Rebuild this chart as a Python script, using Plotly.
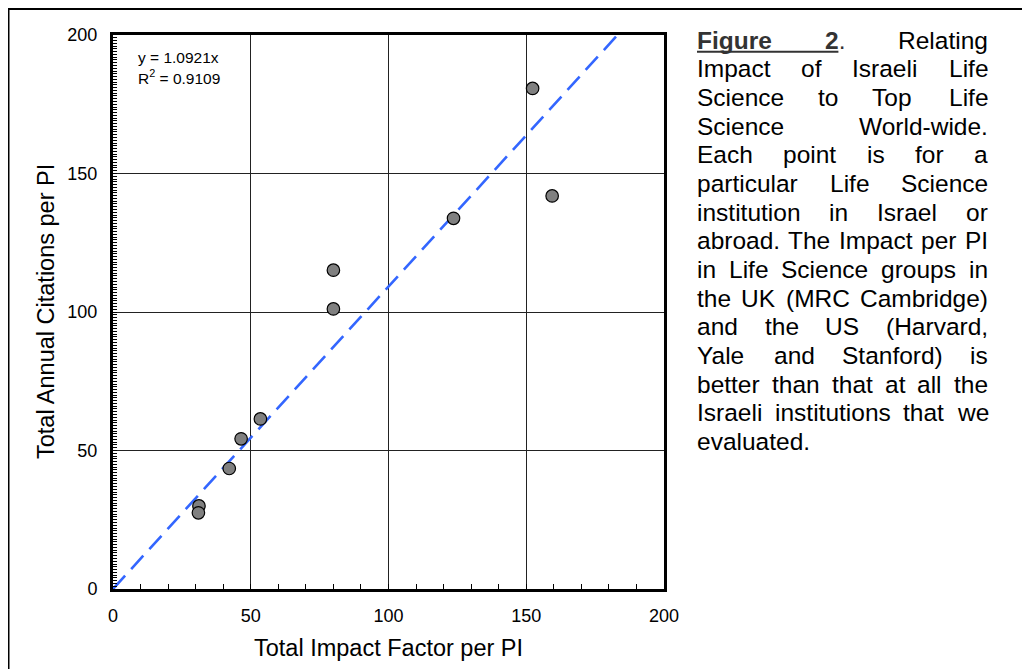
import plotly.graph_objects as go

# ---------------- data ----------------
impact_factor = [152.3, 159.4, 123.6, 80.0, 80.0, 53.5, 46.5, 42.2, 31.2, 31.0]
annual_citations = [180.7, 141.9, 133.8, 115.1, 101.1, 61.4, 54.2, 43.5, 30.0, 27.5]
trend_slope = 1.0921
r_squared = 0.9109
axis_ticks = [0, 50, 100, 150, 200]
axis_range = [0, 200]
x_title = "Total Impact Factor per PI"
y_title = "Total Annual Citations per PI"
caption_lines = [
    ["<b>Figure</b>", "<b>2</b>.", "Relating"],
    ["Impact", "of", "Israeli", "Life"],
    ["Science", "to", "Top", "Life"],
    ["Science", "World-wide."],
    ["Each", "point", "is", "for", "a"],
    ["particular", "Life", "Science"],
    ["institution", "in", "Israel", "or"],
    ["abroad.", "The", "Impact", "per", "PI"],
    ["in", "Life", "Science", "groups", "in"],
    ["the", "UK", "(MRC", "Cambridge)"],
    ["and", "the", "US", "(Harvard,"],
    ["Yale", "and", "Stanford)", "is"],
    ["better", "than", "that", "at", "all", "the"],
    ["Israeli", "institutions", "that", "we"],
    ["evaluated."],
]

# ---------------- geometry helpers ----------------
W, H = 1030, 669
OFF = 8                      # page body margin of the html page
PL, PT = 113, 35             # plot-area top-left on the page
PW, PH = 551, 554
ML, MT = PL - OFF, PT - OFF
MR = W - ML - PW
MB = H - MT - PH


def px(x):
    """page pixel x -> paper fraction"""
    return (x - OFF - ML) / PW


def py(y):
    """page pixel y -> paper fraction"""
    return (MT + PH - (y - OFF)) / PH


# Arial / Liberation Sans advance widths (1/1000 em)
REG = {' ': 278, '.': 278, ',': 278, '-': 333, '(': 333, ')': 333,
       'a': 556, 'b': 556, 'c': 500, 'd': 556, 'e': 556, 'f': 278, 'g': 556,
       'h': 556, 'i': 222, 'j': 222, 'k': 500, 'l': 222, 'm': 833, 'n': 556,
       'o': 556, 'p': 556, 'q': 556, 'r': 333, 's': 500, 't': 278, 'u': 556,
       'v': 500, 'w': 722, 'x': 500, 'y': 500, 'z': 500,
       'A': 667, 'B': 667, 'C': 722, 'D': 722, 'E': 667, 'F': 611, 'G': 778,
       'H': 722, 'I': 278, 'J': 500, 'K': 667, 'L': 556, 'M': 833, 'N': 722,
       'O': 778, 'P': 667, 'Q': 778, 'R': 722, 'S': 667, 'T': 611, 'U': 722,
       'V': 667, 'W': 944, 'X': 667, 'Y': 667, 'Z': 611}
for d in '0123456789':
    REG[d] = 556
BOLD = {'F': 611, 'i': 278, 'g': 611, 'u': 611, 'r': 389, 'e': 556, '2': 556,
        ' ': 278, '.': 278}


def word_width(word, size):
    total = 0
    bold = False
    i = 0
    while i < len(word):
        if word.startswith('<b>', i):
            bold = True
            i += 3
            continue
        if word.startswith('</b>', i):
            bold = False
            i += 4
            continue
        ch = word[i]
        total += (BOLD.get(ch, 600) if bold else REG.get(ch, 556))
        i += 1
    return total * size / 1000.0


FONT = "Liberation Sans, Arial, Helvetica, sans-serif"
CAP_SIZE = 24.5
CAP_LEFT, CAP_RIGHT = 697, 988
CAP_TOP, CAP_STEP = 40.3, 28.65

# ---------------- figure ----------------
fig = go.Figure()

trend_x = [0, axis_range[1] / trend_slope]
trend_y = [trend_slope * v for v in trend_x]
fig.add_trace(go.Scatter(
    x=trend_x, y=trend_y, mode="lines",
    line=dict(color="#3366FF", width=2.6, dash="18px,9px"),
    hoverinfo="skip", showlegend=False))

fig.add_trace(go.Scatter(
    x=impact_factor, y=annual_citations, mode="markers",
    marker=dict(size=12.5, color="#808080", line=dict(color="black", width=1.2)),
    showlegend=False))

axis_common = dict(
    range=axis_range, tickvals=axis_ticks, ticks="inside", tickcolor="black",
    showline=True, linecolor="black", linewidth=3, mirror=True,
    showgrid=True, gridcolor="#222222", gridwidth=1, zeroline=False,
    tickfont=dict(family=FONT, size=18, color="black"), fixedrange=True)

fig.update_xaxes(**axis_common, ticklen=5, ticklabelstandoff=8,
                 minor=dict(dtick=10, ticks="inside", ticklen=5, tickcolor="black",
                            showgrid=False))
fig.update_yaxes(**axis_common, ticklen=4, ticklabelstandoff=9,
                 minor=dict(dtick=1, ticks="inside", ticklen=4, tickcolor="black",
                            showgrid=False))

annotations = []
# regression text
annotations.append(dict(x=px(138), y=py(57), xref="paper", yref="paper",
                        text=f"y = {trend_slope}x", showarrow=False,
                        xanchor="left", yanchor="middle", borderpad=0, borderwidth=0,
                        font=dict(family=FONT, size=15.5, color="black")))
annotations.append(dict(x=px(138), y=py(77), xref="paper", yref="paper",
                        text=f"R<sup>2</sup> = {r_squared}", showarrow=False,
                        xanchor="left", yanchor="middle", borderpad=0, borderwidth=0,
                        font=dict(family=FONT, size=15.5, color="black")))
# axis titles
annotations.append(dict(x=0.5, y=py(648), xref="paper", yref="paper",
                        text=x_title, showarrow=False, xanchor="center", yanchor="middle",
                        font=dict(family=FONT, size=23.5, color="black")))
annotations.append(dict(x=px(46), y=0.5, xref="paper", yref="paper",
                        text=y_title, showarrow=False, textangle=-90,
                        xanchor="center", yanchor="middle",
                        font=dict(family=FONT, size=23.5, color="black")))

# caption, justified
underline_end = None
for li, words in enumerate(caption_lines):
    yc = CAP_TOP + li * CAP_STEP
    widths = [word_width(w, CAP_SIZE) for w in words]
    last = li == len(caption_lines) - 1
    if last or len(words) == 1:
        gap = REG[' '] * CAP_SIZE / 1000.0
    else:
        gap = (CAP_RIGHT - CAP_LEFT - sum(widths)) / (len(words) - 1)
    xpos = CAP_LEFT
    for wi, (w, ww) in enumerate(zip(words, widths)):
        color = "#333333" if "<b>" in w else "black"
        annotations.append(dict(x=px(xpos), y=py(yc), xref="paper", yref="paper",
                                text=w, showarrow=False, xanchor="left",
                                yanchor="middle", borderpad=0, borderwidth=0,
                                font=dict(family=FONT, size=CAP_SIZE, color=color)))
        if li == 0 and wi == 1:
            underline_end = xpos + word_width("<b>2</b>", CAP_SIZE)
        xpos += ww + gap

shapes = [
    # caption underline
    dict(type="line", xref="paper", yref="paper",
         x0=px(CAP_LEFT), x1=px(underline_end), y0=py(51.8), y1=py(51.8),
         line=dict(color="#333333", width=2)),
    # outer border
    dict(type="rect", xref="paper", yref="paper",
         x0=px(8.5), x1=px(1060), y0=py(9), y1=py(700),
         line=dict(color="black", width=2), fillcolor="rgba(0,0,0,0)", layer="below"),
]

fig.update_layout(
    width=W, height=H,
    margin=dict(l=ML, r=MR, t=MT, b=MB, pad=0),
    paper_bgcolor="white", plot_bgcolor="white",
    annotations=annotations, shapes=shapes,
    showlegend=False, hovermode=False,
    font=dict(family=FONT, color="black"),
)

fig.write_html("out.html")
